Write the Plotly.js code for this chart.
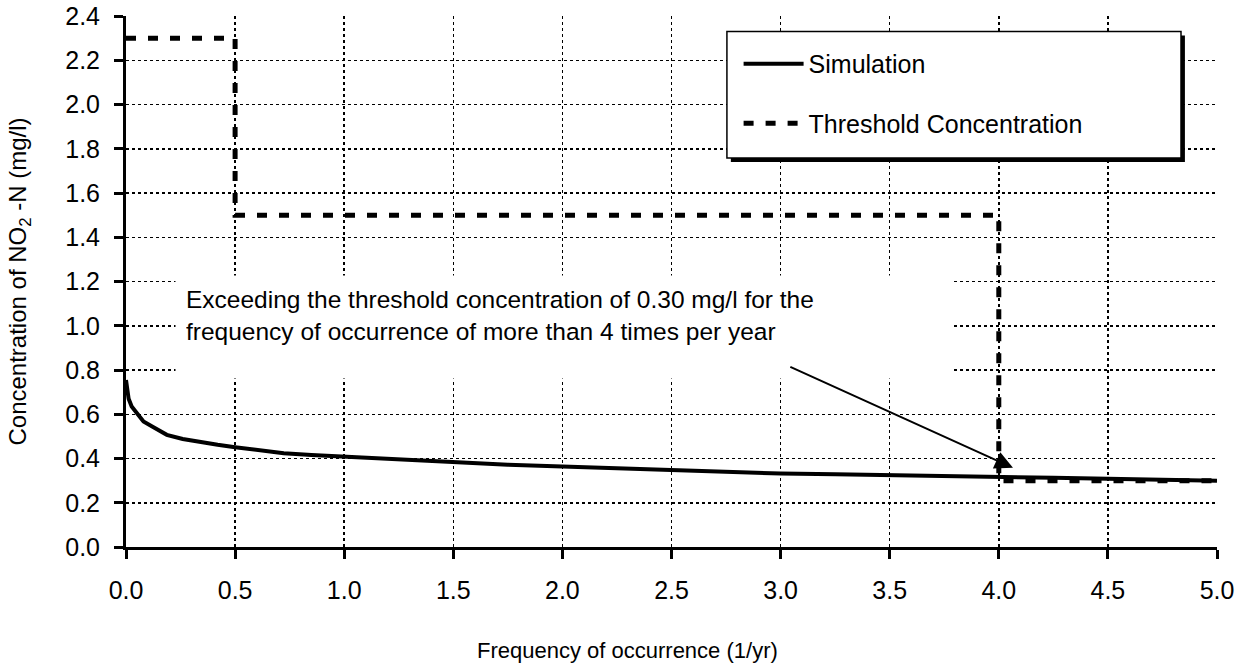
<!DOCTYPE html>
<html>
<head>
<meta charset="utf-8">
<script src="https://cdn.plot.ly/plotly-3.0.1.min.js"></script>
<style>
  html, body { margin: 0; padding: 0; background: #fff; }
  #chart { width: 1247px; height: 663px; }
</style>
</head>
<body>
<div id="chart"></div>
<script>
// Simulation curve: frequency of occurrence (1/yr) vs NO2-N concentration (mg/l)
var simFreq = [0, 0.005, 0.012, 0.026, 0.05, 0.08, 0.12, 0.187, 0.26, 0.34, 0.42, 0.5, 0.6, 0.723, 0.85, 1.0, 1.255, 1.5, 1.75, 2.0, 2.25, 2.5, 2.75, 3.0, 3.25, 3.5, 3.75, 4.0, 4.25, 4.5, 4.75, 5.0];
var simConc = [0.755, 0.72, 0.67, 0.635, 0.605, 0.567, 0.545, 0.507, 0.488, 0.474, 0.462, 0.451, 0.437, 0.424, 0.416, 0.408, 0.394, 0.382, 0.372, 0.364, 0.355, 0.347, 0.339, 0.332, 0.329, 0.326, 0.321, 0.317, 0.313, 0.309, 0.305, 0.300];

// Threshold concentration step line
var thrFreq = [0, 0.5, 0.5, 4.0, 4.0, 5.0];
var thrConc = [2.3, 2.3, 1.5, 1.5, 0.3, 0.3];

// Axis tick values
var xTicks = [0, 0.5, 1.0, 1.5, 2.0, 2.5, 3.0, 3.5, 4.0, 4.5, 5.0];
var yTicks = [0, 0.2, 0.4, 0.6, 0.8, 1.0, 1.2, 1.4, 1.6, 1.8, 2.0, 2.2, 2.4];

// Annotation arrow (tail -> head) in data units
var arrowTail = [3.04, 0.816];
var arrowHead = [4.065, 0.358];

var FONT = 'Liberation Sans, Arial, Helvetica, sans-serif';

var traces = [
  {
    x: thrFreq, y: thrConc, type: 'scatter', mode: 'lines',
    name: 'Threshold Concentration', legendrank: 2, legendgroup: 'b',
    line: { color: '#000', width: 5, dash: '10px,12px' }
  },
  {
    x: simFreq, y: simConc, type: 'scatter', mode: 'lines',
    name: 'Simulation', legendrank: 1, legendgroup: 'a',
    line: { color: '#000', width: 4 }
  }
];

var layout = {
  width: 1247, height: 663,
  margin: { l: 126, r: 30, t: 16, b: 116 },
  paper_bgcolor: '#fff', plot_bgcolor: '#fff',
  font: { family: FONT, size: 24, color: '#000' },
  showlegend: true,
  legend: {
    x: 0.5615, y: 0.953, xanchor: 'left', yanchor: 'top',
    bgcolor: 'rgba(0,0,0,0)', borderwidth: 0,
    font: { family: FONT, size: 25, color: '#000' },
    tracegroupgap: 24, itemwidth: 60
  },
  xaxis: {
    range: [0, 5], tickvals: xTicks, tickformat: '.1f',
    showgrid: true, gridcolor: '#000', gridwidth: 1.5, griddash: '3px,3px',
    showline: true, linecolor: '#000', linewidth: 3,
    ticks: 'outside', ticklen: 9, tickwidth: 3, tickcolor: '#000',
    ticklabelstandoff: 10,
    zeroline: false, fixedrange: true,
    tickfont: { family: FONT, size: 25, color: '#000' }
  },
  yaxis: {
    range: [0, 2.4], tickvals: yTicks, tickformat: '.1f',
    showgrid: true, gridcolor: '#000', gridwidth: 1.5, griddash: '3px,3px',
    showline: true, linecolor: '#000', linewidth: 3,
    ticks: 'outside', ticklen: 9, tickwidth: 3, tickcolor: '#000',
    ticklabelstandoff: 9,
    zeroline: false, fixedrange: true,
    tickfont: { family: FONT, size: 25, color: '#000' },
    title: { text: 'Concentration of NO<sub>2</sub> -N (mg/l)', standoff: 32,
             font: { family: FONT, size: 24, color: '#000' } }
  },
  shapes: [
    // legend shadow
    { type: 'rect', xref: 'x', yref: 'y', x0: 2.772, x1: 4.853, y0: 1.740, y1: 2.312,
      fillcolor: '#000', line: { width: 0 }, layer: 'above' },
    // legend box
    { type: 'rect', xref: 'x', yref: 'y', x0: 2.754, x1: 4.835, y0: 1.758, y1: 2.33,
      fillcolor: '#fff', line: { color: '#000', width: 1.5 }, layer: 'above' }
  ],
  annotations: [
    {
      xref: 'x', yref: 'y', x: 0.2246, y: 1.23, xanchor: 'left', yanchor: 'top',
      text: 'Exceeding the threshold concentration of 0.30 mg/l for the<br>frequency of occurrence of more than 4 times per year',
      showarrow: false, align: 'left', valign: 'top',
      width: 757, height: 82, borderpad: 10, bgcolor: '#fff',
      font: { family: FONT, size: 24.5, color: '#000' }
    },
    {
      xref: 'x', yref: 'y', axref: 'x', ayref: 'y',
      x: arrowHead[0], y: arrowHead[1], ax: arrowTail[0], ay: arrowTail[1],
      text: '&nbsp;', font: { size: 2, color: '#000' }, borderpad: 0,
      showarrow: true, arrowhead: 2, arrowsize: 1.8, arrowwidth: 2,
      arrowcolor: '#000', standoff: 0
    },
    {
      xref: 'paper', yref: 'paper', x: 0.46, y: -0.194, xanchor: 'center', yanchor: 'middle',
      text: 'Frequency of occurrence (1/yr)', showarrow: false,
      font: { family: FONT, size: 22, color: '#000' }
    }
  ]
};

Plotly.newPlot('chart', traces, layout, { displayModeBar: false, staticPlot: true });
</script>
</body>
</html>
